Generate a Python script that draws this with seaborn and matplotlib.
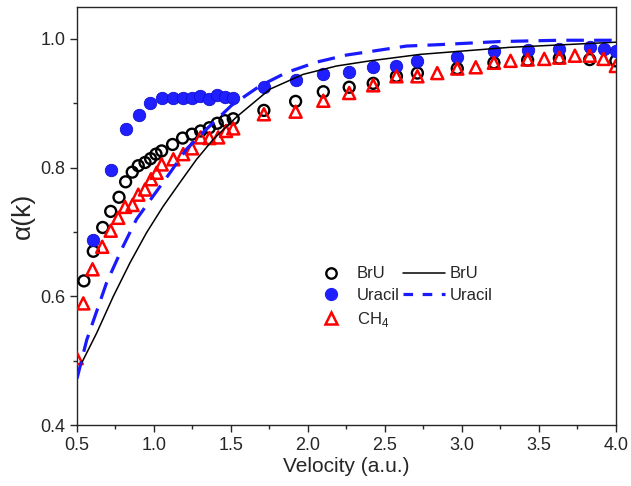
import seaborn as sns
import matplotlib.pyplot as plt
from matplotlib.lines import Line2D
from matplotlib.ticker import MultipleLocator

# Dados
bru_v = [0.545, 0.606, 0.667, 0.719, 0.773, 0.816, 0.859, 0.898, 0.942, 0.978, 1.013, 1.05,
         1.121, 1.186, 1.247, 1.303, 1.36, 1.411, 1.461, 1.515, 1.714, 1.92, 2.10, 2.268,
         2.424, 2.575, 2.711, 2.97, 3.208, 3.427, 3.633, 3.83, 4.0]
bru_a = [0.624, 0.670, 0.707, 0.732, 0.754, 0.778, 0.793, 0.803, 0.808, 0.814, 0.821, 0.826,
         0.836, 0.846, 0.852, 0.857, 0.862, 0.869, 0.873, 0.876, 0.889, 0.903, 0.918, 0.925,
         0.931, 0.942, 0.947, 0.954, 0.963, 0.967, 0.970, 0.968, 0.966]

ura_v = [0.606, 0.719, 0.818, 0.903, 0.976, 1.05, 1.121, 1.186, 1.245, 1.299, 1.36, 1.407,
         1.461, 1.511, 1.714, 1.92, 2.10, 2.268, 2.424, 2.575, 2.711, 2.97, 3.208, 3.427,
         3.633, 3.83, 3.92, 4.0]
ura_a = [0.687, 0.796, 0.860, 0.882, 0.901, 0.908, 0.908, 0.908, 0.908, 0.911, 0.906, 0.913,
         0.910, 0.908, 0.926, 0.936, 0.945, 0.948, 0.956, 0.958, 0.966, 0.972, 0.981, 0.983,
         0.985, 0.987, 0.985, 0.982]

ch4_v = [0.498, 0.541, 0.601, 0.664, 0.719, 0.768, 0.812, 0.861, 0.898, 0.942, 0.981, 1.017,
         1.05, 1.126, 1.19, 1.247, 1.303, 1.36, 1.417, 1.468, 1.515, 1.714, 1.92, 2.10, 2.268,
         2.424, 2.575, 2.711, 2.84, 2.97, 3.09, 3.208, 3.316, 3.427, 3.535, 3.633, 3.734,
         3.83, 3.92, 4.0]
ch4_a = [0.504, 0.589, 0.642, 0.677, 0.702, 0.722, 0.739, 0.742, 0.758, 0.766, 0.782, 0.792,
         0.805, 0.813, 0.821, 0.830, 0.847, 0.846, 0.847, 0.857, 0.861, 0.883, 0.887, 0.904,
         0.916, 0.928, 0.942, 0.942, 0.947, 0.954, 0.956, 0.963, 0.966, 0.968, 0.969, 0.971,
         0.974, 0.974, 0.969, 0.958]

# Curvas teóricas (pontos lidos ao longo das linhas)
bru_fit_v = [0.5, 0.519, 0.628, 0.736, 0.844, 0.952, 1.06, 1.169, 1.277, 1.385, 1.537, 1.753,
             1.969, 2.186, 2.403, 2.727, 3.31, 4.0]
bru_fit_a = [0.475, 0.491, 0.543, 0.600, 0.652, 0.699, 0.740, 0.777, 0.813, 0.844, 0.879, 0.922,
             0.945, 0.958, 0.966, 0.976, 0.987, 0.995]

ura_fit_v = [0.5, 0.563, 0.692, 0.80, 0.887, 0.995, 1.104, 1.212, 1.32, 1.505, 1.688, 1.862,
             2.056, 2.25, 2.446, 2.64, 2.836, 3.247, 3.636, 4.0]
ura_fit_a = [0.472, 0.532, 0.621, 0.678, 0.720, 0.756, 0.792, 0.829, 0.855, 0.897, 0.927, 0.948,
             0.964, 0.975, 0.982, 0.989, 0.991, 0.996, 0.998, 0.998]

sns.set_style("ticks")
plt.rcParams['font.family'] = ['Liberation Sans', 'DejaVu Sans']
plt.rcParams['mathtext.fontset'] = 'custom'
plt.rcParams['mathtext.rm'] = 'Liberation Sans'

fig = plt.figure(figsize=(6.31, 4.86), dpi=100)
ax = fig.add_axes([0.122, 0.1255, 0.854, 0.8605])

sns.scatterplot(x=bru_v, y=bru_a, ax=ax, marker='o', s=62, facecolors='none',
                edgecolor='black', linewidth=1.7, zorder=3)
sns.scatterplot(x=ura_v, y=ura_a, ax=ax, marker='o', s=80, color='#1f1fff',
                edgecolor='#1010d0', linewidth=0.6, zorder=3)
sns.scatterplot(x=ch4_v, y=ch4_a, ax=ax, marker='^', s=75, facecolors='none',
                edgecolor='red', linewidth=1.8, zorder=3)

sns.lineplot(x=bru_fit_v, y=bru_fit_a, ax=ax, color='black', linewidth=1.1, zorder=4)
sns.lineplot(x=ura_fit_v, y=ura_fit_a, ax=ax, color='#1a1aff', linewidth=2.3,
             dashes=False, zorder=4).lines[-1].set_dashes((5.5, 3.2))

ax.set_xlim(0.5, 4.0)
ax.set_ylim(0.4, 1.05)
ax.xaxis.set_major_locator(MultipleLocator(0.5))
ax.xaxis.set_minor_locator(MultipleLocator(0.25))
ax.yaxis.set_major_locator(MultipleLocator(0.2))
ax.yaxis.set_minor_locator(MultipleLocator(0.1))
ax.tick_params(which='major', direction='out', length=5, width=1, labelsize=13)
ax.tick_params(which='minor', direction='out', length=3, width=1)
for s in ax.spines.values():
    s.set_linewidth(1.0)

ax.set_xlabel("Velocity (a.u.)", fontsize=15, labelpad=2)
ax.set_ylabel("α(k)", fontsize=19, labelpad=4)

handles = [
    Line2D([], [], linestyle='none', marker='o', markersize=7.5, markerfacecolor='none',
           markeredgecolor='black', markeredgewidth=1.7),
    Line2D([], [], linestyle='none', marker='o', markersize=8.5, color='#1f1fff'),
    Line2D([], [], linestyle='none', marker='^', markersize=8, markerfacecolor='none',
           markeredgecolor='red', markeredgewidth=1.8),
    Line2D([], [], color='black', linewidth=1.1),
    Line2D([], [], color='#1a1aff', linewidth=2.3, dashes=(3.0, 3.0)),
]
labels = ["BrU", "Uracil", "CH$_4$", "BrU", "Uracil"]
ax.legend(handles, labels, ncol=2, frameon=False, fontsize=12,
          loc='upper left', bbox_to_anchor=(0.405, 0.415),
          handlelength=2.5, handletextpad=0.3, columnspacing=0.2, labelspacing=0.4)

fig.savefig("out.png", dpi=100)
